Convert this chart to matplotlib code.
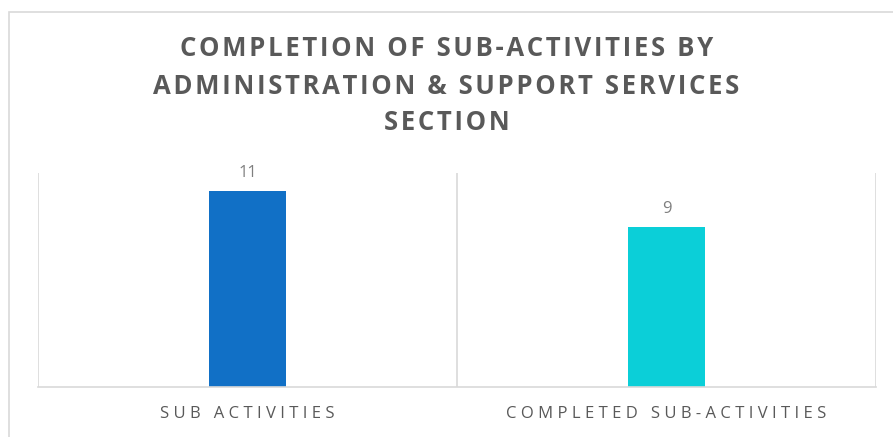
import matplotlib
matplotlib.use("Agg")
import matplotlib.pyplot as plt
from matplotlib.patches import Rectangle

categories = ["SUB ACTIVITIES", "COMPLETED SUB-ACTIVITIES"]
values = [11, 9]
colors = ["#1170c6", "#0bcfd8"]
title_lines = ["COMPLETION OF SUB-ACTIVITIES BY",
               "ADMINISTRATION & SUPPORT SERVICES",
               "SECTION"]


def spaced(s, sep="\u2009"):
  return sep.join(s)


W, H = 893, 437
fig = plt.figure(figsize=(W/100, H/100), dpi=100)
plt.rcParams['font.family'] = ['Open Sans', 'DejaVu Sans']

# outer chart border (runs off right/bottom like the screenshot)
fig.patches.append(Rectangle((9/W, -0.1), 1.1, 1-12/H+0.1, transform=fig.transFigure,
                             fill=False, edgecolor="#d9d9d9", linewidth=1.2))

ax = fig.add_axes([38/W, 1-387/H, (876-38)/W, (387-173)/H])
x = list(range(len(categories)))
bars = ax.bar(x, values, width=0.184, color=colors)
ax.set_xlim(-0.5, len(categories)-0.5)
ax.set_ylim(0, 12)
ax.set_yticks([])
for s in ['top', 'right', 'left']:
  ax.spines[s].set_visible(False)
ax.spines['bottom'].set_color("#d9d9d9")
ax.spines['bottom'].set_linewidth(1.2)
for b in [i-0.5 for i in range(len(categories)+1)]:
  ax.axvline(b, color="#d9d9d9", linewidth=1.2, zorder=0)

ax.set_xticks(x)
ax.set_xticklabels([spaced(c, "\u2009\u200a") for c in categories], fontsize=12, color="#595959")
ax.tick_params(axis='x', length=0, pad=14)

for xi, v in zip(x, values):
  ax.text(xi, v+0.55, str(v), ha='center', va='bottom', fontsize=12, color="#7f7f7f")

for i, line in enumerate(title_lines):
  fig.text(0.5, 1-(49+37*i)/H, spaced(line, "\u200a"), ha='center', va='center',
           fontsize=18.5, fontweight='bold', color="#595959")

fig.savefig("out.png", dpi=100)
